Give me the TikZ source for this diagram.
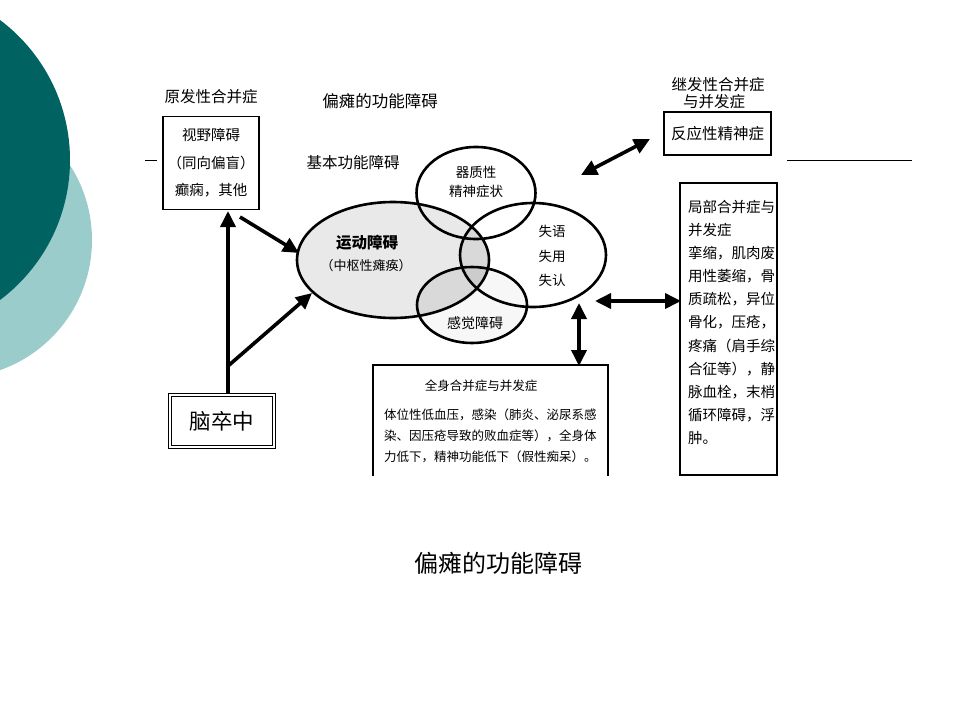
\documentclass[tikz,border=0pt]{standalone}
\usepackage{fontspec}
\setmainfont{Noto Sans CJK SC}
\usetikzlibrary{arrows.meta,shapes.geometric}
\definecolor{tealdark}{RGB}{0,99,97}
\definecolor{teallight}{RGB}{155,204,204}
\tikzset{
  fs/.style={font=\fontsize{#1}{#1}\selectfont},
  lbl/.style={inner sep=0pt, anchor=center},
  ell/.style={draw, ellipse, line width=2.6pt, inner sep=0pt},
  boxed/.style={draw, rectangle, line width=1.8pt, inner sep=0pt},
  bigarrow/.style={line width=3.6pt, -{Triangle[length=16pt,width=15pt]}},
  dblarrow/.style={line width=3.6pt, {Triangle[length=16pt,width=15pt]}-{Triangle[length=16pt,width=15pt]}},
  thinrule/.style={line width=1pt}
}
\begin{document}
\begin{tikzpicture}[x=1pt,y=-1pt]
\useasboundingbox (0,0) rectangle (960,720);
% background decoration
\fill[teallight] (-46,240) circle [radius=138];
\fill[tealdark] (-105,160) circle [radius=175];
\coordinate (r1a) at (145,160); \coordinate (r1b) at (157,160);
\coordinate (r2a) at (787,160); \coordinate (r2b) at (912,160);
\draw[thinrule] (r1a) -- (r1b);
\draw[thinrule] (r2a) -- (r2b);

% titles
\node[lbl, fs=15.5] (primtitle) at (211,97) {原发性合并症};
\node[lbl, fs=16.5] (maintitle) at (380,101) {偏瘫的功能障碍};
\node[lbl, fs=15.5] (basictitle) at (353,163) {基本功能障碍};
\node[lbl, fs=15.5] (sectitle1) at (718,85) {继发性合并症};
\node[lbl, fs=15.5] (sectitle2) at (714,102) {与并发症};

% box: visual field
\node[boxed, minimum width=96pt, minimum height=93pt, align=center,
      font=\fontsize{14.5}{27.5}\selectfont] (visbox) at (211,163)
      {视野障碍\\（同向偏盲）\\癫痫，其他};

% box: reactive psychosis
\node[boxed, minimum width=107pt, minimum height=43pt, fs=15.5] (psybox) at (717.5,133.5) {反应性精神症};

% ellipse shading
\fill[gray!17] (393,260) ellipse [x radius=96, y radius=58];
\fill[gray!6] (472,305) ellipse [x radius=55, y radius=38];
\begin{scope}
  \clip (393,260) ellipse [x radius=96, y radius=58];
  \fill[gray!30] (533,255) ellipse [x radius=73, y radius=52];
  \fill[gray!30] (472,305) ellipse [x radius=55, y radius=38];
  \clip (533,255) ellipse [x radius=73, y radius=52];
  \fill[gray!40] (472,305) ellipse [x radius=55, y radius=38];
\end{scope}

% ellipses
\node[ell, minimum width=119pt, minimum height=92pt] (organic) at (476,193) {};
\node[ell, minimum width=192pt, minimum height=116pt] (motor) at (393,260) {};
\node[ell, minimum width=146pt, minimum height=104pt] (aphasia) at (533,255) {};
\node[ell, minimum width=110pt, minimum height=76pt] (sensory) at (472,305) {};

% ellipse texts
\node[lbl, fs=13.5] (orgt1) at (476,172) {器质性};
\node[lbl, fs=13.5] (orgt2) at (476,191) {精神症状};
\node[lbl, font=\bfseries\fontsize{15.5}{15.5}\selectfont] (motort1) at (367,243) {运动障碍};
\node[lbl, fs=13] (motort2) at (366,266) {（中枢性瘫痪）};
\node[lbl, fs=13.5] (apht1) at (552,231) {失语};
\node[lbl, fs=13.5] (apht2) at (552,256) {失用};
\node[lbl, fs=13.5] (apht3) at (552,280) {失认};
\node[lbl, fs=14] (senst) at (475,323) {感觉障碍};

% stroke box
\node[draw, double, double distance=2pt, line width=1.2pt, inner sep=0pt,
      minimum width=104pt, minimum height=52pt, fs=21.5] (stroke) at (222,421) {脑卒中};

% left arrows
\coordinate (vbot) at (228,211);
\coordinate (stop) at (228,393);
\coordinate (branch) at (228,366);
\coordinate (motorL1) at (312,293);
\coordinate (visout) at (240,217);
\coordinate (motorL2) at (299,253);
\draw[bigarrow] (stop) -- (vbot);
\draw[bigarrow] (branch) -- (motorL1);
\draw[bigarrow] (visout) -- (motorL2);

% right arrows
\coordinate (ta) at (581,175);
\coordinate (tb) at (650,139);
\draw[dblarrow] (ta) -- (tb);
\coordinate (ha) at (595,301);
\coordinate (hb) at (681,301);
\draw[dblarrow] (ha) -- (hb);
\coordinate (va) at (579,303);
\coordinate (vb) at (579,366);
\draw[dblarrow] (va) -- (vb);

% general complications box (open at bottom)
\coordinate (gbl) at (373,476);
\coordinate (gtl) at (373,365);
\coordinate (gtr) at (608,365);
\coordinate (gbr) at (608,476);
\draw[line width=1.8pt] (gbl) -- (gtl) -- (gtr) -- (gbr);
\node[lbl, fs=12.5] (gentitle) at (481,386) {全身合并症与并发症};
\node[anchor=north west, inner sep=0pt, align=left, font=\fontsize{12.5}{20.7}\selectfont] (gentext) at (384,409)
  {体位性低血压，感染（肺炎、泌尿系感\\染、因压疮导致的败血症等），全身体\\力低下，精神功能低下（假性痴呆）。};

% local complications box
\node[boxed, minimum width=97pt, minimum height=292pt] (localbox) at (728.5,329) {};
\node[anchor=north west, inner sep=0pt, align=left, font=\fontsize{14.5}{23.1}\selectfont] (localtext) at (688,200)
  {局部合并症与\\并发症\\挛缩，肌肉废\\用性萎缩，骨\\质疏松，异位\\骨化，压疮，\\疼痛（肩手综\\合征等），静\\脉血栓，末梢\\循环障碍，浮\\肿。};

% caption
\node[lbl, fs=24] (caption) at (498,563) {偏瘫的功能障碍};
\end{tikzpicture}
\end{document}
